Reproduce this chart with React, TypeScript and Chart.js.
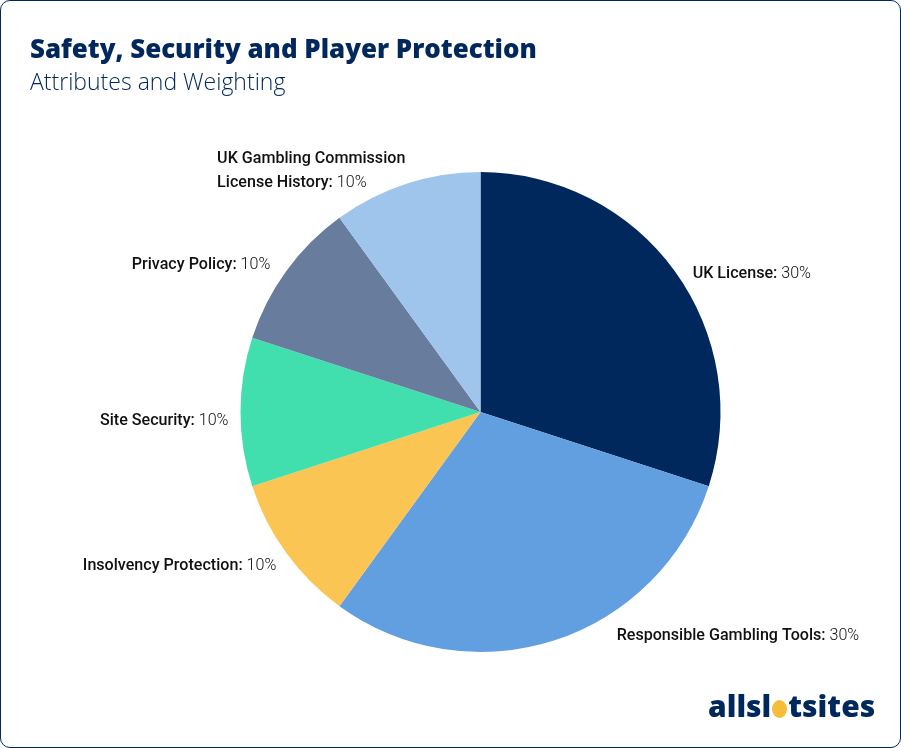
import { useEffect, useRef } from "react";
import { Chart, registerables } from "chart.js";

Chart.register(...registerables);

const categories = [
  "UK License",
  "Responsible Gambling Tools",
  "Insolvency Protection",
  "Site Security",
  "Privacy Policy",
  "UK Gambling Commission\nLicense History",
];
const weights = [30, 30, 10, 10, 10, 10];
const colors = ["#00285c", "#629fe0", "#fac552", "#42dfae", "#687c9d", "#a0c5ec"];

// nudge of each label from the point on the rim at the slice's middle
const labelNudge = [
  [18, 3],
  [62, -4],
  [-10, 13],
  [-12, 9],
  [-16, -6],
  [-1, -25],
];

const BOLD = '500 16.1px Roboto, sans-serif';
const LIGHT = '300 16.1px Roboto, sans-serif';
const LINE_HEIGHT = 24;

const pieLabels = {
  id: "pieLabels",
  afterDatasetsDraw(chart: Chart) {
    const { ctx } = chart;
    const meta = chart.getDatasetMeta(0);
    ctx.save();
    ctx.textBaseline = "middle";
    ctx.textAlign = "left";
    ctx.fillStyle = "#111111";
    meta.data.forEach((arc: any, i: number) => {
      const { x, y, startAngle, endAngle, outerRadius } = arc.getProps(
        ["x", "y", "startAngle", "endAngle", "outerRadius"],
        true,
      );
      const mid = (startAngle + endAngle) / 2;
      const rimX = x + Math.cos(mid) * outerRadius;
      const rimY = y + Math.sin(mid) * outerRadius;
      const lines = categories[i].split("\n");
      const value = ` ${weights[i]}%`;

      const lineWidth = (line: string, last: boolean) => {
        ctx.font = BOLD;
        let w = ctx.measureText(last ? line + ":" : line).width;
        if (last) {
          ctx.font = LIGHT;
          w += ctx.measureText(value).width;
        }
        return w;
      };
      const block = Math.max(...lines.map((l, n) => lineWidth(l, n === lines.length - 1)));
      const left = Math.cos(mid) < 0 ? rimX + labelNudge[i][0] - block : rimX + labelNudge[i][0];
      const top = rimY + labelNudge[i][1];

      lines.forEach((line, n) => {
        const last = n === lines.length - 1;
        const ly = top + n * LINE_HEIGHT;
        const head = last ? line + ":" : line;
        ctx.font = BOLD;
        ctx.fillText(head, left, ly);
        if (last) {
          const w = ctx.measureText(head).width;
          ctx.font = LIGHT;
          ctx.fillText(value, left + w, ly);
        }
      });
    });
    ctx.restore();
  },
};

export default function App() {
  const canvasRef = useRef<HTMLCanvasElement>(null);

  useEffect(() => {
    document.body.style.margin = "0";
    if (!canvasRef.current) return;
    const chart = new Chart(canvasRef.current, {
      type: "pie",
      data: {
        labels: categories,
        datasets: [{ data: weights, backgroundColor: colors, borderWidth: 0 }],
      },
      options: {
        responsive: false,
        animation: false,
        devicePixelRatio: 1,
        layout: { padding: { left: 60.5, right: 0.5, top: 172, bottom: 96 } },
        plugins: { legend: { display: false }, tooltip: { enabled: false } },
      },
      plugins: [pieLabels],
    });
    return () => chart.destroy();
  }, []);

  return (
    <div
      style={{
        position: "relative",
        width: 901,
        height: 748,
        boxSizing: "border-box",
        border: "1.5px solid #00285c",
        borderRadius: 10,
        background: "#fff",
        overflow: "hidden",
        color: "#00285c",
        fontFamily: '"Open Sans", sans-serif',
      }}
    >
      <canvas
        ref={canvasRef}
        width={901}
        height={748}
        style={{ position: "absolute", left: -1, top: -1 }}
      />
      <div style={{ position: "absolute", left: 29, top: 27, fontSize: 25.9, lineHeight: "40px", fontWeight: 800, whiteSpace: "nowrap" }}>
        Safety, Security and Player Protection
      </div>
      <div style={{ position: "absolute", left: 29, top: 64, fontSize: 23, lineHeight: "32px", fontWeight: 300, whiteSpace: "nowrap" }}>
        Attributes and Weighting
      </div>
      <div style={{ position: "absolute", left: 707, top: 685, fontSize: 30, lineHeight: "40px", fontWeight: 800, whiteSpace: "nowrap" }}>
        allsl
        <span style={{ color: "transparent", background: "#f5bd3a", borderRadius: "50%", display: "inline-block", width: 15, height: 18, lineHeight: "18px", overflow: "hidden", verticalAlign: "-1px", margin: "0 1px" }}>
          o
        </span>
        tsites
      </div>
    </div>
  );
}
